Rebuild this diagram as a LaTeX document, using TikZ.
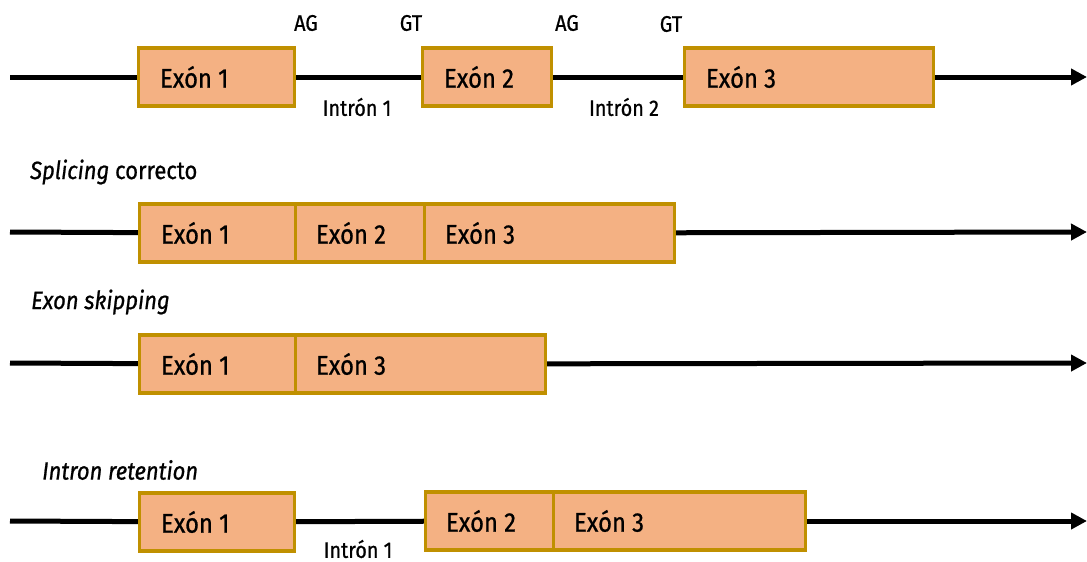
\documentclass[tikz,border=0pt]{standalone}
\usepackage{fontspec}
\setmainfont{Fira Sans}[FakeStretch=0.88,FakeBold=0.8]
\usetikzlibrary{arrows.meta}
\definecolor{exfill}{HTML}{F4B183}
\definecolor{exdraw}{HTML}{C09000}
\begin{document}
\begin{tikzpicture}[x=1pt,y=-1pt,
  exbox/.style={draw=exdraw,fill=exfill,line width=3.2pt,inner sep=0pt,minimum height=58pt},
  extext/.style={anchor=west,inner sep=0pt,font=\fontsize{27}{30}\selectfont},
  site/.style={inner sep=0pt,font=\fontsize{22.5}{25}\selectfont},
  title/.style={anchor=west,inner sep=0pt,font=\fontsize{25}{28}\selectfont},
  dna/.style={line width=5pt,draw=black},
  tip/.style={-{Triangle[length=16pt,width=16pt]}}]
\useasboundingbox (0,0) rectangle (1087,562);

% ---------- Row 1: pre-mRNA ----------
\coordinate (r1s) at (10,77);
\coordinate (r1t) at (1087,77);
\node[exbox,minimum width=156pt] (r1e1) at (216.5,77) {};
\node[exbox,minimum width=129pt] (r1e2) at (487,77) {};
\node[exbox,minimum width=249pt] (r1e3) at (809,77) {};
\draw[dna] (r1s) -- (r1e1);
\draw[dna] (r1e1) -- (r1e2);
\draw[dna] (r1e2) -- (r1e3);
\draw[dna,tip] (r1e3) -- (r1t);
\node[extext] (r1t1) at ([xshift=23pt]r1e1.west) {Exón 1};
\node[extext] (r1t2) at ([xshift=23pt]r1e2.west) {Exón 2};
\node[extext] (r1t3) at ([xshift=23pt]r1e3.west) {Exón 3};
\node[site] (ag1) at (306,23) {AG};
\node[site] (gt1) at (411,23) {GT};
\node[site] (ag2) at (567,23) {AG};
\node[site] (gt2) at (671,24) {GT};
\node[site] (in1) at (357,107) {Intrón 1};
\node[site] (in2) at (624,107) {Intrón 2};

% ---------- Row 2: correct splicing ----------
\node[title] (ti2) at (30,172) {\textit{Splicing} correcto};
\coordinate (r2s) at (10,232);
\coordinate (r2t) at (1087,232);
\node[exbox,minimum width=156pt] (r2e1) at (217.5,233) {};
\node[exbox,minimum width=129pt] (r2e2) at (360,233) {};
\node[exbox,minimum width=250pt] (r2e3) at (549.5,233) {};
\draw[dna] (r2s) -- (r2e1);
\draw[dna,tip] (r2e3) -- (r2t);
\node[extext] (r2t1) at ([xshift=23pt]r2e1.west) {Exón 1};
\node[extext] (r2t2) at ([xshift=22pt]r2e2.west) {Exón 2};
\node[extext] (r2t3) at ([xshift=22pt]r2e3.west) {Exón 3};

% ---------- Row 3: exon skipping ----------
\node[title] (ti3) at (31,302) {\textit{Exon skipping}};
\coordinate (r3s) at (10,363);
\coordinate (r3t) at (1087,363);
\node[exbox,minimum width=156pt] (r3e1) at (217.5,364) {};
\node[exbox,minimum width=250pt] (r3e3) at (420.5,364) {};
\draw[dna] (r3s) -- (r3e1);
\draw[dna,tip] (r3e3) -- (r3t);
\node[extext] (r3t1) at ([xshift=23pt]r3e1.west) {Exón 1};
\node[extext] (r3t3) at ([xshift=22pt]r3e3.west) {Exón 3};

% ---------- Row 4: intron retention ----------
\node[title] (ti4) at (42,470) {\textit{Intron retention}};
\coordinate (r4s) at (10,521);
\coordinate (r4t) at (1087,521);
\node[exbox,minimum width=155pt] (r4e1) at (217,522) {};
\node[exbox,minimum width=128pt] (r4e2) at (489.5,521) {};
\node[exbox,minimum width=252pt] (r4e3) at (679.5,521) {};
\draw[dna] (r4s) -- (r4e1);
\draw[dna] (r4e1) -- (r4e2);
\draw[dna,tip] (r4e3) -- (r4t);
\node[extext] (r4t1) at ([xshift=23pt]r4e1.west) {Exón 1};
\node[extext] (r4t2) at ([xshift=22pt]r4e2.west) {Exón 2};
\node[extext] (r4t3) at ([xshift=22pt]r4e3.west) {Exón 3};
\node[site] (in3) at (358,549) {Intrón 1};
\end{tikzpicture}
\end{document}
